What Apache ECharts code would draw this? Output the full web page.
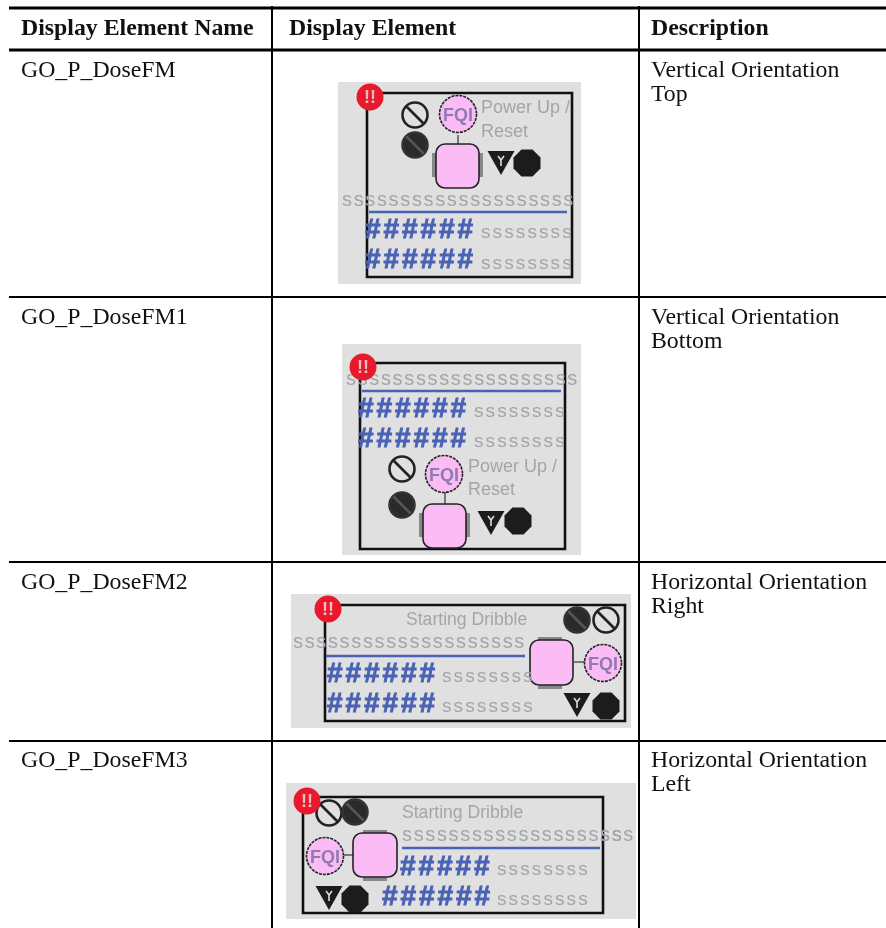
<!DOCTYPE html>
<html><head><meta charset="utf-8">
<style>html,body{margin:0;padding:0;background:#fff}#c{width:886px;height:928px}</style>
<script src="https://cdn.jsdelivr.net/npm/echarts@6/dist/echarts.min.js"></script>
</head><body><div id="c"></div>
<script>
const headers = ['Display Element Name', 'Display Element', 'Description'];
const names = ['GO_P_DoseFM', 'GO_P_DoseFM1', 'GO_P_DoseFM2', 'GO_P_DoseFM3'];
const descriptions = [['Vertical Orientation', 'Top'], ['Vertical Orientation', 'Bottom'], ['Horizontal Orientation', 'Right'], ['Horizontal Orientation', 'Left']];
const powerUp = ['Power Up /', 'Reset'];
const dribble = 'Starting Dribble';
const longS = 'ssssssssssssssssssssss';
const shortS = 'ssssssss';
const hashes = '######';

const SERIF = '"Liberation Serif","Times New Roman",serif';
const SANS = '"Liberation Sans",Arial,sans-serif';
const GREY = '#a3a5a8', BLUE = '#4a62b5', PINK = '#fbbcf6', BG = '#dfe0df', DARK = '#1c1c1c';
const g = [];
// y is the text baseline; the box top sits about 0.76em above it
const txt = (x, y, text, font, fill, extra) => {
  const size = parseFloat(font.match(/([\d.]+)px/)[1]);
  g.push({type:'text', silent:true, style:Object.assign({x, y:y - size*0.76, text, font, fill, textBaseline:'top'}, extra||{})});
};
const rect = (x, y, w, h, s) => g.push({type:'rect', silent:true, shape:{x, y, width:w, height:h}, style:s});
const line = (x1, y1, x2, y2, stroke, lw) => g.push({type:'line', silent:true, shape:{x1, y1, x2, y2}, style:{stroke, lineWidth:lw}});
const circ = (cx, cy, r, s) => g.push({type:'circle', silent:true, shape:{cx, cy, r}, style:s});
const octagon = (cx, cy, r) => {
  const k = r * 0.41;
  g.push({type:'polygon', silent:true, shape:{points:[[cx-k,cy-r],[cx+k,cy-r],[cx+r,cy-k],[cx+r,cy+k],[cx+k,cy+r],[cx-k,cy+r],[cx-r,cy+k],[cx-r,cy-k]]}, style:{fill:DARK}});
};
const noSign = (cx, cy, dark) => {
  circ(cx, cy, 12.5, {fill:dark ? '#2a2a2a' : 'transparent', stroke:dark ? '#333' : '#222', lineWidth:2.6});
  line(cx-8.5, cy-8.5, cx+8.5, cy+8.5, dark ? '#555' : '#222', 2.6);
};
const alarm = (cx, cy) => {
  circ(cx, cy, 13.5, {fill:'#e8192c'});
  txt(cx, cy+6, '!!', 'bold 18px '+SANS, '#f6b9b9', {textAlign:'center'});
};
const fqi = (cx, cy) => {
  circ(cx, cy, 18.5, {fill:PINK, stroke:'#222', lineWidth:1.6, lineDash:[3,1]});
  txt(cx, cy+7, 'FQI', 'bold 18px '+SANS, '#8e7bb0', {textAlign:'center'});
};
const box = (x, y, w, h) => {
  rect(x, y, w, h, {fill:PINK, stroke:'#222', lineWidth:1.6});
  g[g.length-1].shape.r = 9;
};
const wrench = (cx, cy) => {
  g.push({type:'polygon', silent:true, shape:{points:[[cx-13.5,cy-12],[cx+13.5,cy-12],[cx,cy+12]]}, style:{fill:DARK}});
  line(cx, cy-4, cx, cy+3, '#ddd', 1.6);
  line(cx-3, cy-7, cx, cy-3, '#ddd', 1.6);
  line(cx+3, cy-7, cx, cy-3, '#ddd', 1.6);
};
const spaced = (x, y, text, size, gap, fill, weight, extra) => {
  [...text].forEach((ch, i) => txt(x + i*gap, y, ch, (weight||'')+' '+size+'px '+SANS, fill, extra));
};
const hashRow = (x, y, n) => spaced(x, y, hashes.slice(0, n||6), 28, 18.5, BLUE, 'bold', {stroke:BLUE, lineWidth:0.9});
const sRow = (x, y) => spaced(x, y, shortS, 19, 11.6, GREY, '');
const longRow = (x, y, n) => spaced(x, y, longS.slice(0, n), 20, 11.65, GREY, '');

// table rules
const ruleYs = [8, 50, 297, 562, 741];
const ruleW = [3, 3, 2, 2, 2];
ruleYs.forEach((y, i) => line(9, y, 886, y, '#000', ruleW[i]));
[272, 639].forEach(x => line(x, 6, x, 928, '#000', 2));

const colX = [21, 289, 651];
headers.forEach((h, i) => txt(colX[i], 35, h, 'bold 23.8px '+SERIF, '#111'));
const rowText = [77, 324, 589, 767];
names.forEach((n, i) => {
  txt(colX[0], rowText[i], n, '23.8px '+SERIF, '#111');
  descriptions[i].forEach((d, j) => txt(colX[2], rowText[i] + j*24, d, '23.8px '+SERIF, '#111'));
});

// element 1 : vertical, top
rect(338, 82, 243, 202, {fill:BG});
rect(367, 93, 205, 184, {fill:'transparent', stroke:'#111', lineWidth:2.6});
noSign(415, 115, false); noSign(415, 145, true);
line(458, 135, 458, 145, '#555', 1.5);
rect(432, 153, 4, 24, {fill:'#888'}); rect(479, 153, 4, 24, {fill:'#888'});
box(436, 144, 43, 44);
fqi(458, 114);
txt(481, 113, powerUp[0], '18px '+SANS, GREY); txt(481, 137, powerUp[1], '18px '+SANS, GREY);
wrench(501, 163); octagon(527, 163, 13.5);
longRow(342, 206, 20);
line(369, 212, 567, 212, BLUE, 2.6);
hashRow(365, 238); sRow(481, 238);
hashRow(365, 268); sRow(481, 269);
alarm(370, 97);

// element 2 : vertical, bottom
rect(342, 344, 239, 211, {fill:BG});
rect(360, 363, 205, 186, {fill:'transparent', stroke:'#111', lineWidth:2.6});
longRow(346, 385, 20);
line(362, 391, 561, 391, BLUE, 2.6);
hashRow(358, 417); sRow(474, 417);
hashRow(358, 447); sRow(474, 447);
noSign(402, 469, false); noSign(402, 505, true);
line(445, 490, 445, 504, '#555', 1.5);
rect(419, 513, 4, 24, {fill:'#888'}); rect(466, 513, 4, 24, {fill:'#888'});
box(423, 504, 43, 44);
fqi(444, 474);
txt(468, 472, powerUp[0], '18px '+SANS, GREY); txt(468, 495, powerUp[1], '18px '+SANS, GREY);
wrench(491, 523); octagon(518, 521, 13.5);
alarm(363, 367);

// element 3 : horizontal, right
rect(291, 594, 340, 134, {fill:BG});
rect(325, 605, 300, 116, {fill:'transparent', stroke:'#111', lineWidth:2.6});
txt(406, 625, dribble, '17.6px '+SANS, GREY);
noSign(606, 620, false); noSign(577, 620, true);
longRow(293, 648, 20);
line(326, 656, 525, 656, BLUE, 2.6);
rect(538, 637, 24, 4, {fill:'#888'}); rect(538, 685, 24, 4, {fill:'#888'});
box(530, 640, 43, 45);
line(573, 662, 586, 662, '#555', 1.5);
fqi(603, 663);
hashRow(327, 682); sRow(442, 682);
hashRow(327, 712); sRow(442, 712);
wrench(577, 705); octagon(606, 706, 13.5);
alarm(328, 609);

// element 4 : horizontal, left
rect(286, 783, 350, 136, {fill:BG});
rect(303, 797, 300, 116, {fill:'transparent', stroke:'#111', lineWidth:2.6});
noSign(329, 813, false); noSign(355, 812, true);
txt(402, 818, dribble, '17.6px '+SANS, GREY);
longRow(402, 841, 20); spaced(600, 841, 'ss', 20, 11.65, GREY);
line(402, 848, 600, 848, BLUE, 2.6);
fqi(325, 856);
line(344, 855, 353, 855, '#555', 1.5);
rect(363, 830, 24, 4, {fill:'#888'}); rect(363, 877, 24, 4, {fill:'#888'});
box(353, 833, 44, 44);
hashRow(400, 875, 5); sRow(497, 875);
wrench(329, 898); octagon(355, 899, 13.5);
hashRow(382, 905); sRow(497, 905);
alarm(307, 801);

const chart = echarts.init(document.getElementById('c'), null, {renderer:'canvas'});
chart.setOption({animation:false, backgroundColor:'#fff', graphic:{elements:g}});
</script></body></html>
